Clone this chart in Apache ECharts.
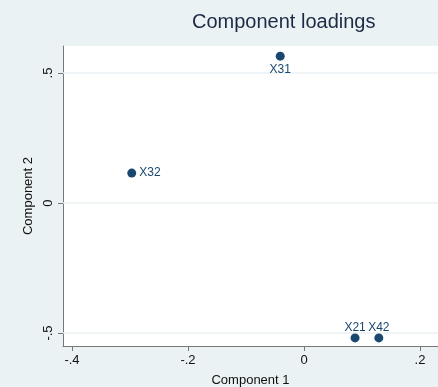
<!DOCTYPE html>
<html><head><meta charset="utf-8">
<script src="https://cdn.jsdelivr.net/npm/echarts@6/dist/echarts.min.js"></script>
<style>html,body{margin:0;padding:0;background:#eaf2f3}#c{width:438px;height:387px}</style>
</head><body><div id="c"></div>
<script>
const names = ['X31', 'X32', 'X21', 'X42'];
const comp1 = [-0.041, -0.297, 0.088, 0.129];
const comp2 = [0.565, 0.115, -0.519, -0.519];
const xTicks = [-0.4, -0.2, 0, 0.2];
const yTicks = [-0.5, 0, 0.5];

const labelPos = {X31: 'bottom', X32: 'right', X21: 'top', X42: 'top'};
const labelDist = {X31: 3, X32: 3, X21: 0, X42: 0};
function fmt(v){
  const r = Math.round(v*10)/10;
  if (r === 0) return '0';
  let s = String(r);
  return s.replace('0.', '.');
}
const chart = echarts.init(document.getElementById('c'));
const navy = '#1a476f';
chart.setOption({
  backgroundColor: '#eaf2f3',
  animation: false,
  title: {text: 'Component loadings', left: 187, top: 7,
    textStyle: {fontFamily: 'Liberation Sans, Arial', fontSize: 20, fontWeight: 'normal', color: '#1c2a45'}},
  grid: {left: 63, top: 46, right: 0, bottom: 41, show: true, backgroundColor: '#ffffff', borderWidth: 0,
    outerBoundsMode: 'none', containLabel: false},
  xAxis: {
    type: 'value', min: -0.4155, max: 0.231,
    name: 'Component 1', nameLocation: 'middle', nameGap: 28, nameMoveOverlap: false,
    nameTextStyle: {fontFamily: 'Liberation Sans, Arial', fontSize: 13, color: '#111'},
    axisLine: {show: true, onZero: false, lineStyle: {color: '#777', width: 1}},
    axisTick: {show: true, length: 5, customValues: xTicks, lineStyle: {color: '#777'}},
    axisLabel: {customValues: xTicks, formatter: fmt, margin: 8,
      fontFamily: 'Liberation Sans, Arial', fontSize: 13, color: '#111'},
    splitLine: {show: false}
  },
  yAxis: {
    type: 'value', min: -0.55, max: 0.604,
    name: 'Component 2', nameLocation: 'middle', nameGap: 28, nameRotate: 90, nameMoveOverlap: false,
    nameTextStyle: {fontFamily: 'Liberation Sans, Arial', fontSize: 13, color: '#111'},
    axisLine: {show: true, onZero: false, lineStyle: {color: '#777', width: 1}},
    axisTick: {show: true, length: 5, customValues: yTicks, lineStyle: {color: '#777'}},
    axisLabel: {customValues: yTicks, formatter: fmt, margin: 8, rotate: 90,
      fontFamily: 'Liberation Sans, Arial', fontSize: 13, color: '#111'},
    splitLine: {show: false}
  },
  series: [{
    type: 'scatter', symbolSize: 9,
    itemStyle: {color: navy, opacity: 1},
    data: names.map((n, i) => ({value: [comp1[i], comp2[i]], name: n,
      label: {position: labelPos[n], distance: labelDist[n]}})),
    label: {show: true, formatter: p => p.name,
      fontFamily: 'Liberation Sans, Arial', fontSize: 12, color: navy},
    markLine: {silent: true, symbol: 'none', label: {show: false},
      lineStyle: {color: '#eaf2f3', width: 1.5, type: 'solid'},
      data: yTicks.map(v => ({yAxis: v})), z: 1}
  }]
});
</script></body></html>
